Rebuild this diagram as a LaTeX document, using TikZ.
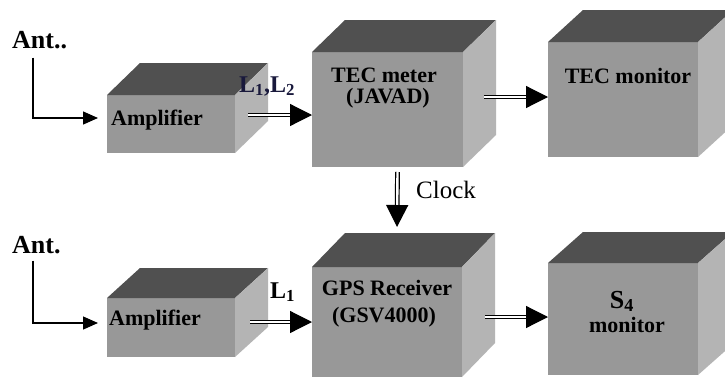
\documentclass[tikz,border=0pt]{standalone}
\usepackage{fontspec}
\setmainfont{Liberation Serif}
\usetikzlibrary{arrows.meta,calc}
\definecolor{frontgray}{RGB}{152,152,152}
\definecolor{topgray}{RGB}{80,80,80}
\definecolor{sidegray}{RGB}{180,180,180}
\definecolor{labnavy}{RGB}{25,25,60}
% #1 name, #2 x, #3 y, #4 width, #5 height, #6 depth x, #7 depth y
\newcommand\boxcube[7]{%
  \node[front, minimum width=#4pt, minimum height=#5pt] (#1) at (#2,#3) {};
  \fill[topgray] (#1.north west) -- ++(#6,-#7) -- ++(#4,0) -- (#1.north east) -- cycle;
  \fill[sidegray] (#1.north east) -- ++(#6,-#7) -- ++(0,#5) -- (#1.south east) -- cycle;
}
\begin{document}
\begin{tikzpicture}[x=1pt,y=-1pt,
  front/.style={fill=frontgray, inner sep=0pt, outer sep=0pt, anchor=north west},
  lbl/.style={font=\fontsize{22}{22}\selectfont\bfseries, anchor=base, inner sep=0pt},
  antlbl/.style={font=\fontsize{26}{26}\selectfont\bfseries, anchor=base west, inner sep=0pt},
  thinarrow/.style={line width=1.3pt, -{Triangle[length=15pt,width=13pt]}},
  dblarrow/.style={double, double distance=2.4pt, line width=1.2pt, -{Triangle[length=22pt,width=22pt]}},
]
\useasboundingbox[fill=white] (0,0) rectangle (725,378);

% boxes
\boxcube{amp1}{107}{95}{128}{58}{33}{32}
\boxcube{tec}{312}{52}{151}{115}{33}{32}
\boxcube{tecmon}{548}{42}{150}{115}{35}{32}
\boxcube{amp2}{107}{298}{128}{59}{33}{30}
\boxcube{gps}{312}{267}{150}{110}{33}{34}
\boxcube{sfour}{548}{263}{150}{112}{35}{31}

% box labels
\node[lbl] (amp1t) at (157,125) {Amplifier};
\node[lbl] (tect1) at (384,82) {TEC meter};
\node[lbl] (tect2) at (388,103) {(JAVAD)};
\node[lbl] (tecmont) at (628,83) {TEC monitor};
\node[lbl] (amp2t) at (155,325) {Amplifier};
\node[lbl] (gpst1) at (387,295) {GPS Receiver};
\node[lbl] (gpst2) at (384,322) {(GSV4000)};
\node[lbl,font=\fontsize{26}{26}\selectfont\bfseries] (sfourt1) at (622,308) {S\textsubscript{4}};
\node[lbl] (sfourt2) at (627,332) {monitor};

% antenna labels
\node[antlbl] (ant1) at (12,48) {Ant..};
\node[antlbl] (ant2) at (12,253) {Ant.};

% signal labels
\node[antlbl,font=\fontsize{24}{24}\selectfont\bfseries,text=labnavy] (l12) at (239,92) {L\textsubscript{1},L\textsubscript{2}};
\node[antlbl,font=\fontsize{24}{24}\selectfont\bfseries] (l1) at (270,298) {L\textsubscript{1}};
\node[anchor=base west, inner sep=0pt, font=\fontsize{25}{25}\selectfont] (clk) at (416,198) {Clock};

% antenna connectors
\draw[thinarrow] (ant1.south west) ++(21,9) |- ([xshift=-9pt,yshift=6pt]amp1.west);
\draw[thinarrow] (ant2.south west) ++(21,7) |- ([xshift=-9pt,yshift=4.5pt]amp2.west);

% double connectors
\draw[dblarrow] ([xshift=13pt,yshift=9pt]amp1.east) -- ([yshift=-5.5pt]tec.west);
\draw[dblarrow] ([xshift=21pt,yshift=12.5pt]tec.east) -- ([yshift=2.5pt]tecmon.west);
\draw[dblarrow] ([xshift=10pt,yshift=-5pt]tec.south) -- ([xshift=10pt,yshift=40pt]gps.north);
\draw[dblarrow] ([xshift=15pt,yshift=5.5pt]amp2.east) -- (gps.west);
\draw[dblarrow] ([xshift=23pt,yshift=5pt]gps.east) -- ([yshift=2pt]sfour.west);
\end{tikzpicture}
\end{document}
